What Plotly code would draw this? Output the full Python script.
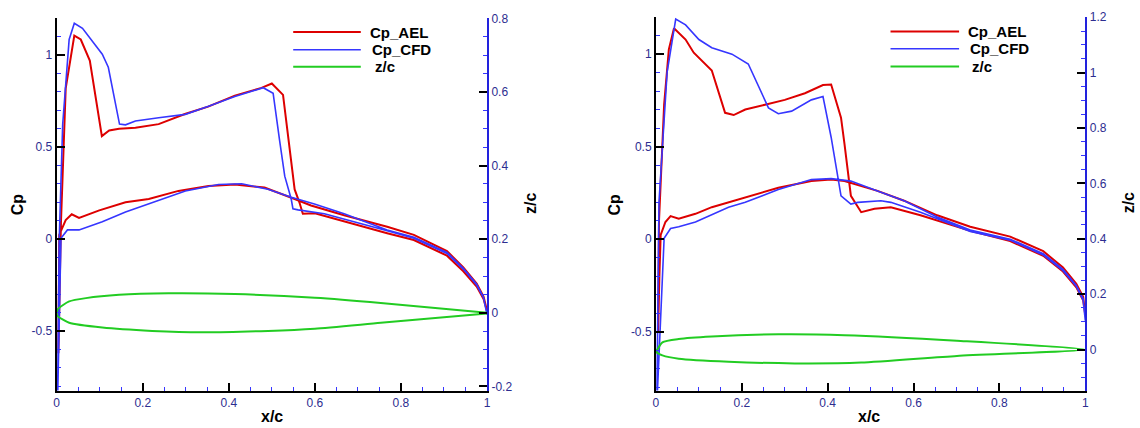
import plotly.graph_objects as go

# ---------------- data ----------------
# Left case: Cp, upper surface (LE -> TE) and lower surface (LE -> TE)
L_AEL_UP_X = [0.004, 0.006, 0.01, 0.021, 0.041, 0.056, 0.077, 0.105, 0.122, 0.145, 0.183, 0.237,
              0.298, 0.352, 0.414, 0.476, 0.50, 0.526, 0.553, 0.564, 0.572, 0.60, 0.668, 0.768,
              0.83, 0.907, 0.945, 0.976, 0.992, 1.0]
L_AEL_UP_CP = [-0.62, -0.3, 0.09, 0.82, 1.106, 1.085, 0.97, 0.56, 0.59, 0.60, 0.605, 0.625,
               0.68, 0.72, 0.78, 0.822, 0.846, 0.784, 0.27, 0.2, 0.138, 0.14, 0.094, 0.032,
               -0.005, -0.09, -0.175, -0.258, -0.325, -0.39]
L_AEL_LO_X = [0.004, 0.005, 0.006, 0.021, 0.035, 0.052, 0.099, 0.16, 0.214, 0.283, 0.353, 0.414,
              0.483, 0.553, 0.591, 0.668, 0.768, 0.83, 0.907, 0.945, 0.976, 0.992, 1.0]
L_AEL_LO_CP = [-0.62, -0.3, 0.023, 0.103, 0.135, 0.115, 0.156, 0.2, 0.218, 0.262, 0.289, 0.297,
               0.28, 0.218, 0.183, 0.13, 0.067, 0.023, -0.065, -0.154, -0.242, -0.313, -0.39]

L_CFD_UP_X = [0.002, 0.006, 0.014, 0.029, 0.041, 0.06, 0.106, 0.12, 0.146, 0.16, 0.183, 0.237,
              0.299, 0.353, 0.414, 0.48, 0.503, 0.518, 0.53, 0.545, 0.549, 0.561, 0.622, 0.668,
              0.768, 0.83, 0.907, 0.945, 0.976, 0.992, 1.0]
L_CFD_UP_CP = [-0.9, 0.0, 0.624, 1.085, 1.173, 1.146, 1.005, 0.934, 0.625, 0.621, 0.642, 0.66,
               0.678, 0.722, 0.775, 0.823, 0.793, 0.536, 0.342, 0.218, 0.165, 0.159, 0.138, 0.11,
               0.045, 0.005, -0.078, -0.163, -0.25, -0.32, -0.41]
L_CFD_LO_X = [0.002, 0.01, 0.025, 0.052, 0.106, 0.16, 0.222, 0.299, 0.376, 0.43, 0.491, 0.545,
              0.599, 0.668, 0.768, 0.83, 0.907, 0.945, 0.976, 0.992, 1.0]
L_CFD_LO_CP = [-0.9, 0.005, 0.05, 0.05, 0.094, 0.147, 0.2, 0.262, 0.297, 0.301, 0.271, 0.227,
               0.191, 0.138, 0.05, 0.01, -0.072, -0.158, -0.245, -0.318, -0.41]

# Left case: airfoil section z/c
L_ZC_UP_X = [0.0, 0.002, 0.029, 0.068, 0.145, 0.26, 0.414, 0.6, 0.753, 1.0]
L_ZC_UP_Z = [-0.004, 0.009, 0.031, 0.04, 0.049, 0.053, 0.051, 0.041, 0.027, 0.0]
L_ZC_LO_X = [0.0, 0.002, 0.029, 0.106, 0.222, 0.337, 0.491, 0.6, 0.753, 1.0]
L_ZC_LO_Z = [-0.004, -0.009, -0.027, -0.04, -0.049, -0.053, -0.049, -0.043, -0.027, -0.002]

# Right case: Cp
R_AEL_UP_X = [0.005, 0.006, 0.007, 0.019, 0.03, 0.042, 0.069, 0.088, 0.107, 0.13, 0.161, 0.181,
              0.208, 0.254, 0.30, 0.347, 0.389, 0.408, 0.431, 0.439, 0.454, 0.478, 0.509, 0.547,
              0.616, 0.732, 0.825, 0.902, 0.948, 0.979, 0.995, 1.0]
R_AEL_UP_CP = [-0.5, -0.2, 0.094, 0.727, 1.026, 1.14, 1.079, 1.008, 0.965, 0.912, 0.683, 0.671,
               0.701, 0.727, 0.753, 0.789, 0.833, 0.836, 0.657, 0.516, 0.234, 0.146, 0.164, 0.173,
               0.129, 0.045, -0.01, -0.09, -0.175, -0.26, -0.33, -0.41]
R_AEL_LO_X = [0.005, 0.008, 0.011, 0.022, 0.034, 0.053, 0.092, 0.13, 0.208, 0.285, 0.362, 0.408,
              0.439, 0.516, 0.578, 0.655, 0.732, 0.825, 0.902, 0.948, 0.979, 0.995, 1.0]
R_AEL_LO_CP = [-0.5, -0.2, 0.023, 0.093, 0.125, 0.111, 0.137, 0.173, 0.225, 0.278, 0.314, 0.322,
               0.314, 0.261, 0.208, 0.129, 0.067, 0.014, -0.065, -0.153, -0.241, -0.312, -0.41]

R_CFD_UP_X = [0.002, 0.007, 0.026, 0.046, 0.069, 0.10, 0.13, 0.177, 0.215, 0.238, 0.262, 0.285,
              0.316, 0.362, 0.389, 0.408, 0.42, 0.431, 0.454, 0.47, 0.524, 0.547, 0.616, 0.732,
              0.825, 0.902, 0.948, 0.979, 0.995, 1.0]
R_CFD_UP_CP = [-0.9, 0.2, 0.903, 1.19, 1.158, 1.079, 1.035, 1.0, 0.947, 0.833, 0.71, 0.678,
               0.692, 0.753, 0.771, 0.551, 0.375, 0.234, 0.19, 0.199, 0.208, 0.199, 0.146, 0.041,
               -0.005, -0.085, -0.17, -0.255, -0.33, -0.44]
R_CFD_LO_X = [0.002, 0.019, 0.034, 0.053, 0.092, 0.169, 0.208, 0.285, 0.362, 0.408, 0.454, 0.516,
              0.578, 0.655, 0.732, 0.825, 0.902, 0.948, 0.979, 0.995, 1.0]
R_CFD_LO_CP = [-0.9, 0.005, 0.058, 0.067, 0.093, 0.173, 0.199, 0.269, 0.322, 0.327, 0.314, 0.261,
               0.208, 0.12, 0.05, 0.0, -0.078, -0.163, -0.25, -0.322, -0.44]

# Right case: airfoil section z/c
R_ZC_UP_X = [0.0, 0.015, 0.053, 0.13, 0.285, 0.439, 0.701, 1.0]
R_ZC_UP_Z = [-0.009, 0.026, 0.038, 0.047, 0.055, 0.052, 0.032, 0.0]
R_ZC_LO_X = [0.0, 0.015, 0.053, 0.169, 0.323, 0.478, 0.701, 1.0]
R_ZC_LO_Z = [-0.009, -0.021, -0.033, -0.044, -0.05, -0.047, -0.023, 0.0]

X_TICKS = [0, 0.2, 0.4, 0.6, 0.8, 1.0]
X_TICKTEXT = ["0", "0.2", "0.4", "0.6", "0.8", "1"]
CP_TICKS = [-0.5, 0, 0.5, 1.0]
CP_TICKTEXT = ["-0.5", "0", "0.5", "1"]
L_Z_TICKS = [-0.2, 0, 0.2, 0.4, 0.6, 0.8]
L_Z_TICKTEXT = ["-0.2", "0", "0.2", "0.4", "0.6", "0.8"]
R_Z_TICKS = [0, 0.2, 0.4, 0.6, 0.8, 1.0, 1.2]
R_Z_TICKTEXT = ["0", "0.2", "0.4", "0.6", "0.8", "1", "1.2"]

SERIES = ["Cp_AEL", "Cp_CFD", "z/c"]

# ---------------- styling ----------------
W, H = 1140, 428
RED, BLUE, GREEN = "#dd0000", "#3636ff", "#22cc22"
TICKFONT = dict(family="Liberation Sans, Arial, sans-serif", size=12, color="#2d2d90")
TITLEFONT = dict(family="Liberation Sans, Arial, sans-serif", size=16, color="black")


def loop(up_x, up_y, lo_x, lo_y):
    # TE -> LE along the upper surface, then LE -> TE along the lower surface
    return list(reversed(up_x)) + list(lo_x), list(reversed(up_y)) + list(lo_y)


fig = go.Figure()

panels = [
    dict(xa="x", ya="y", za="y2",
         ael=(L_AEL_UP_X, L_AEL_UP_CP, L_AEL_LO_X, L_AEL_LO_CP),
         cfd=(L_CFD_UP_X, L_CFD_UP_CP, L_CFD_LO_X, L_CFD_LO_CP),
         zc=(L_ZC_UP_X, L_ZC_UP_Z, L_ZC_LO_X, L_ZC_LO_Z)),
    dict(xa="x2", ya="y3", za="y4",
         ael=(R_AEL_UP_X, R_AEL_UP_CP, R_AEL_LO_X, R_AEL_LO_CP),
         cfd=(R_CFD_UP_X, R_CFD_UP_CP, R_CFD_LO_X, R_CFD_LO_CP),
         zc=(R_ZC_UP_X, R_ZC_UP_Z, R_ZC_LO_X, R_ZC_LO_Z)),
]

for i, p in enumerate(panels):
    x, y = loop(*p["ael"])
    fig.add_trace(go.Scatter(x=x, y=y, mode="lines", name=SERIES[0], xaxis=p["xa"], yaxis=p["ya"],
                             line=dict(color=RED, width=2), showlegend=False))
    x, y = loop(*p["cfd"])
    fig.add_trace(go.Scatter(x=x, y=y, mode="lines", name=SERIES[1], xaxis=p["xa"], yaxis=p["ya"],
                             line=dict(color=BLUE, width=1.6), showlegend=False))
    x, y = loop(*p["zc"])
    fig.add_trace(go.Scatter(x=x, y=y, mode="lines", name=SERIES[2], xaxis=p["xa"], yaxis=p["za"],
                             line=dict(color=GREEN, width=2, shape="spline", smoothing=0.6),
                             showlegend=False))


def xaxis(domain, anchor):
    return dict(domain=domain, anchor=anchor, range=[0, 1], tickmode="array", tickvals=X_TICKS,
                ticktext=X_TICKTEXT, ticks="inside", ticklen=8, tickwidth=2, tickcolor="black",
                showline=True, linecolor="black", linewidth=2, showgrid=False, zeroline=False,
                tickfont=TICKFONT,
                minor=dict(tickmode="linear", tick0=0, dtick=0.05, ticks="inside", ticklen=4,
                           tickwidth=1, tickcolor=BLUE, showgrid=False))


def cpaxis(domain, anchor, rng):
    return dict(domain=domain, anchor=anchor, range=rng, tickmode="array", tickvals=CP_TICKS,
                ticktext=CP_TICKTEXT, ticks="inside", ticklen=8, tickwidth=2, tickcolor="black",
                showline=True, linecolor="black", linewidth=2, showgrid=False, zeroline=False,
                tickfont=TICKFONT,
                minor=dict(tickmode="linear", tick0=0, dtick=0.1, ticks="inside", ticklen=4,
                           tickwidth=1, tickcolor=BLUE, showgrid=False))


def zaxis(overlay, anchor, rng, tv, tt):
    return dict(overlaying=overlay, anchor=anchor, side="right", range=rng, tickmode="array",
                tickvals=tv, ticktext=tt, ticks="inside", ticklen=8, tickwidth=2,
                tickcolor="black", showline=True, linecolor="#2222dd", linewidth=2,
                showgrid=False, zeroline=False, tickfont=TICKFONT,
                minor=dict(tickmode="linear", tick0=0, dtick=0.05, ticks="inside", ticklen=4,
                           tickwidth=1, tickcolor=BLUE, showgrid=False))


L_X0, L_X1 = 54 / W, 487 / W
R_X0, R_X1 = 657 / W, 1089 / W
Y0 = 1 - 392.7 / H
L_Y1 = 1 - 11.6 / H
R_Y1 = 1 - 10.4 / H

fig.update_layout(
    width=W, height=H, margin=dict(l=0, r=0, t=0, b=0),
    paper_bgcolor="white", plot_bgcolor="white", showlegend=False,
    xaxis=xaxis([L_X0, L_X1], "y"),
    yaxis=cpaxis([Y0, L_Y1], "x", [-0.823, 1.2]),
    yaxis2=zaxis("y", "x", [-0.211, 0.8], L_Z_TICKS, L_Z_TICKTEXT),
    xaxis2=xaxis([R_X0, R_X1], "y3"),
    yaxis3=cpaxis([Y0, R_Y1], "x2", [-0.818, 1.2]),
    yaxis4=zaxis("y3", "x2", [-0.148, 1.2], R_Z_TICKS, R_Z_TICKTEXT),
)

# axis titles
def title_ann(text, px, py, angle=0):
    fig.add_annotation(text=f"<b>{text}</b>", x=px / W, y=1 - py / H, xref="paper", yref="paper",
                       showarrow=False, textangle=angle, font=TITLEFONT,
                       xanchor="center", yanchor="middle")

title_ann("Cp", 14, 202, -90)
title_ann("z/c", 531, 201, -90)
title_ann("x/c", 271, 419)
title_ann("Cp", 615, 202, -90)
title_ann("z/c", 1132, 201, -90)
title_ann("x/c", 871, 419)

# legends (one per panel)
LEG_COLORS = [RED, BLUE, GREEN]
legends = [
    dict(x0=292, x1=360, ys=[25.7, 43.7, 61.3], tx=[367, 369, 372]),
    dict(x0=893, x1=962, ys=[25, 42.7, 61], tx=[969, 971, 973]),
]
for lg in legends:
    for k in range(3):
        yy = 1 - lg["ys"][k] / H
        fig.add_shape(type="line", xref="paper", yref="paper", x0=lg["x0"] / W, x1=lg["x1"] / W,
                      y0=yy, y1=yy, line=dict(color=LEG_COLORS[k], width=2 if k != 1 else 1.6))
        fig.add_annotation(text=f"<b>{SERIES[k]}</b>", x=lg["tx"][k] / W, y=yy, xref="paper",
                           yref="paper", showarrow=False, xanchor="left", yanchor="middle",
                           font=dict(family="Liberation Sans, Arial, sans-serif", size=15,
                                     color="black"))

fig.write_html("out.html", config={"displayModeBar": False},
               post_script="document.body.style.margin='0';document.body.style.overflow='hidden';")
